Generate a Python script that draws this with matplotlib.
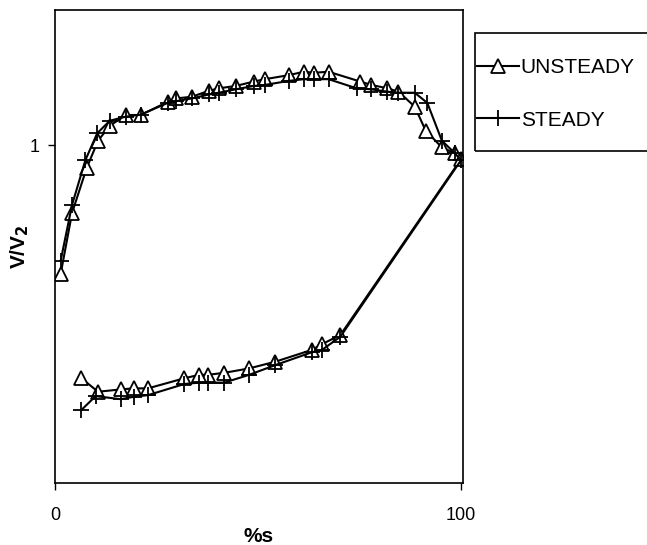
import numpy as np
import matplotlib
matplotlib.use('Agg')
import matplotlib.pyplot as plt
from matplotlib.patches import Rectangle

plt.rcParams['font.family'] = ['Liberation Sans', 'DejaVu Sans']

# upper branch (left to right) then lower branch (right to left)
unsteady_s = [1.4, 4.2, 7.8, 10.6, 13.5, 17.4, 21.1, 27.8, 29.8, 33.7, 38.0, 40.4, 44.5, 49.0,
              51.7, 57.6, 61.3, 63.7, 67.4, 75.2, 77.9, 81.9, 84.6, 88.6, 91.3, 95.3, 98.5, 100.0,
              70.3, 65.8, 63.3, 54.3, 47.8, 41.7, 37.6, 35.5, 31.9, 22.9, 19.4, 16.3, 10.6, 6.5]
unsteady_v = [0.619, 0.799, 0.932, 1.013, 1.057, 1.089, 1.089, 1.128, 1.138, 1.143, 1.161, 1.168, 1.175, 1.188,
              1.195, 1.207, 1.217, 1.214, 1.217, 1.188, 1.178, 1.168, 1.158, 1.114, 1.043, 0.993, 0.976, 0.958,
              0.438, 0.411, 0.394, 0.359, 0.339, 0.326, 0.320, 0.320, 0.310, 0.280, 0.280, 0.277, 0.270, 0.310]

steady_s = [1.4, 4.2, 7.5, 10.4, 13.5, 17.4, 21.1, 27.8, 29.8, 33.7, 38.0, 40.4, 44.5, 49.0,
            51.7, 57.6, 61.3, 63.7, 67.4, 74.3, 77.9, 81.9, 84.6, 88.6, 91.7, 95.3, 98.5, 100.0,
            70.3, 65.8, 63.3, 54.3, 47.8, 41.7, 37.6, 35.5, 31.9, 22.9, 19.4, 16.2, 10.0, 6.5]
steady_v = [0.658, 0.823, 0.956, 1.035, 1.072, 1.084, 1.090, 1.125, 1.130, 1.138, 1.150, 1.155, 1.165, 1.175,
            1.178, 1.190, 1.195, 1.195, 1.195, 1.168, 1.165, 1.158, 1.155, 1.155, 1.125, 1.013, 0.976, 0.955,
            0.433, 0.394, 0.387, 0.349, 0.320, 0.297, 0.297, 0.297, 0.293, 0.260, 0.255, 0.248, 0.257, 0.216]

fig = plt.figure(figsize=(6.47, 5.45), dpi=100)
ax = fig.add_axes([0.085, 0.1138, 0.6306, 0.868])

ax.plot(unsteady_s, unsteady_v, color='black', lw=1.5, marker='^', ms=9.5,
        mfc='white', mec='black', mew=1.3, label='UNSTEADY')
ax.plot(steady_s, steady_v, color='black', lw=1.5, marker='+', ms=12,
        mew=1.3, label='STEADY')

ax.set_xlim(0, 100.5)
ax.set_ylim(0, 1.4)
ax.set_xticks([0, 100])
ax.set_yticks([1])
ax.tick_params(direction='out', length=5, width=1, labelsize=13, pad=12)
ax.tick_params(axis='y', pad=6)
for sp in ax.spines.values():
    sp.set_linewidth(1.2)

ax.set_xlabel('%s', fontsize=15, fontweight='bold')
ax.xaxis.set_label_coords(0.5, -0.092)
ax.set_ylabel('V/V$_\\mathbf{2}$', fontsize=15, fontweight='bold')
ax.yaxis.set_label_coords(-0.058, 0.5)

# legend frame drawn separately so it runs off the right edge like the original
fig.patches.append(Rectangle((475 / 647, 1 - 151 / 545), 0.4, 118 / 545,
                             transform=fig.transFigure, fill=False,
                             edgecolor='black', lw=1.2))
leg = fig.legend(loc='upper left', bbox_to_anchor=(0.737, 0.893), fontsize=15,
                 frameon=False, handlelength=2.0, handletextpad=0.1,
                 labelspacing=1.6, borderpad=0, borderaxespad=0)

fig.savefig('out.png', dpi=100)
